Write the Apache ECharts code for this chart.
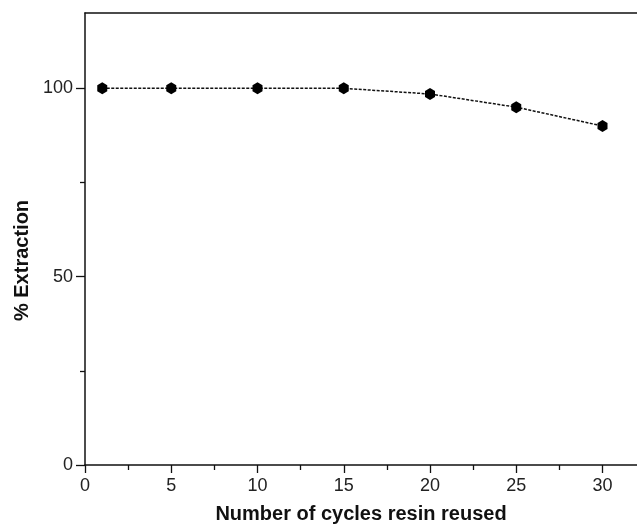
<!DOCTYPE html>
<html>
<head>
<meta charset="utf-8">
<script src="https://cdn.jsdelivr.net/npm/echarts@6/dist/echarts.min.js"></script>
<style>
  html, body { margin: 0; padding: 0; background: #fff; }
  #main { width: 637px; height: 529px; }
</style>
</head>
<body>
<div id="main"></div>
<script>
var myChart = echarts.init(document.getElementById('main'));

// cycles of resin reuse vs % extraction
const cycles = [1, 5, 10, 15, 20, 25, 30];
const extraction = [100, 100, 100, 100, 98.5, 95, 90];

// tick positions
const xMajor = [0, 5, 10, 15, 20, 25, 30];
const xMinor = [2.5, 7.5, 12.5, 17.5, 22.5, 27.5];
const yMajor = [0, 50, 100];
const yMinor = [25, 75];

const hexagon = 'path://M0,-10 L8.66,-5 L8.66,5 L0,10 L-8.66,5 L-8.66,-5 Z';
const font = 'Liberation Sans, Arial, sans-serif';
const ink = '#111';

const xRange = {type: 'value', min: 0, max: 32, splitLine: {show: false}};
const yRange = {type: 'value', min: 0, max: 120, splitLine: {show: false}};

let option = {
    animation: false,
    backgroundColor: '#fff',
    grid: {left: 85, right: -1, top: 13, bottom: 60},
    xAxis: [
        Object.assign({}, xRange, {
            position: 'bottom',
            name: 'Number of cycles resin reused',
            nameLocation: 'middle',
            nameGap: 39,
            nameTextStyle: {fontFamily: font, fontWeight: 'bold', fontSize: 20, color: ink},
            axisLine: {show: true, onZero: false, lineStyle: {color: ink, width: 1.5}},
            axisTick: {show: true, length: 8, customValues: xMajor, lineStyle: {color: ink, width: 1.3}},
            axisLabel: {fontFamily: font, fontSize: 18, color: '#222', margin: 12, customValues: xMajor}
        }),
        Object.assign({}, xRange, {
            position: 'bottom',
            axisLine: {show: false, onZero: false},
            axisTick: {show: true, length: 5, customValues: xMinor, lineStyle: {color: ink, width: 1.3}},
            axisLabel: {show: false}
        }),
        Object.assign({}, xRange, {
            position: 'top',
            axisLine: {show: true, onZero: false, lineStyle: {color: ink, width: 1.5}},
            axisTick: {show: false},
            axisLabel: {show: false}
        })
    ],
    yAxis: [
        Object.assign({}, yRange, {
            position: 'left',
            name: '% Extraction',
            nameLocation: 'middle',
            nameGap: 53,
            nameTextStyle: {
                fontFamily: font, fontWeight: 'bold', fontSize: 20, color: ink,
                padding: [0, 43, 0, 0]
            },
            axisLine: {show: true, onZero: false, lineStyle: {color: ink, width: 1.5}},
            axisTick: {show: true, length: 9, customValues: yMajor, lineStyle: {color: ink, width: 1.3}},
            axisLabel: {fontFamily: font, fontSize: 18, color: '#222', margin: 12, customValues: yMajor}
        }),
        Object.assign({}, yRange, {
            position: 'left',
            axisLine: {show: false, onZero: false},
            axisTick: {show: true, length: 5, customValues: yMinor, lineStyle: {color: ink, width: 1.3}},
            axisLabel: {show: false}
        })
    ],
    series: [
        {
            type: 'line',
            xAxisIndex: 0,
            yAxisIndex: 0,
            data: cycles.map(function (c, i) { return [c, extraction[i]]; }),
            symbol: hexagon,
            symbolSize: [10, 12],
            itemStyle: {color: '#000'},
            lineStyle: {color: ink, width: 1.5, type: [3, 1.5]},
            z: 3
        }
    ]
};

myChart.setOption(option);
</script>
</body>
</html>
